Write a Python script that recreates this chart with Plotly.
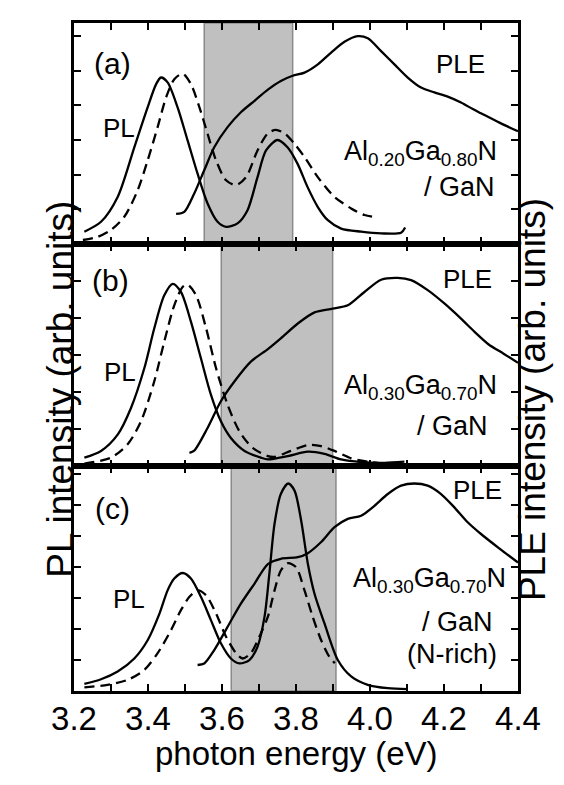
import plotly.graph_objects as go
from plotly.subplots import make_subplots

# ---------------- data (photon energy in eV, intensity in arb. units) ----------------
# Panel (a) Al0.20Ga0.80N / GaN
a_pl1_E = [3.228, 3.273, 3.318, 3.363, 3.399, 3.422, 3.435, 3.453, 3.480, 3.507, 3.534, 3.561, 3.588, 3.611,
           3.642, 3.669, 3.696, 3.719, 3.750, 3.777, 3.804, 3.831, 3.859, 3.886, 3.922, 3.976, 4.030, 4.084, 4.095]
a_pl1_I = [0.36, 0.645, 1.36, 2.79, 3.94, 4.61, 4.80, 4.66, 3.94, 2.99, 2.03, 1.17, 0.645, 0.50,
           0.60, 0.98, 1.93, 2.70, 3.00, 2.79, 2.32, 1.65, 1.07, 0.69, 0.45, 0.36, 0.31, 0.33, 0.48]
a_pl2_E = [3.224, 3.264, 3.300, 3.336, 3.372, 3.399, 3.426, 3.449, 3.471, 3.494, 3.516, 3.539, 3.561, 3.584,
           3.611, 3.638, 3.665, 3.696, 3.723, 3.745, 3.769, 3.796, 3.823, 3.859, 3.904, 3.949, 3.985, 4.010]
a_pl2_I = [0.12, 0.21, 0.41, 0.79, 1.55, 2.41, 3.37, 4.23, 4.75, 4.91, 4.61, 3.94, 3.18, 2.41,
           1.84, 1.70, 1.93, 2.70, 3.18, 3.29, 3.19, 2.89, 2.51, 1.93, 1.36, 1.03, 0.84, 0.79]
a_ple_E = [3.476, 3.498, 3.525, 3.552, 3.579, 3.615, 3.651, 3.688, 3.724, 3.759, 3.791, 3.823, 3.859, 3.895,
           3.931, 3.967, 3.994, 4.030, 4.066, 4.102, 4.138, 4.174, 4.210, 4.246, 4.278, 4.300, 4.350, 4.400]
a_ple_I = [0.87, 0.93, 1.46, 2.13, 2.79, 3.37, 3.80, 4.13, 4.45, 4.70, 4.85, 4.94, 5.18, 5.52,
           5.83, 5.99, 5.93, 5.56, 5.18, 4.80, 4.51, 4.37, 4.25, 4.08, 3.89, 3.77, 3.50, 3.25]

# Panel (b) Al0.30Ga0.70N / GaN
b_pl1_E = [3.228, 3.273, 3.318, 3.354, 3.390, 3.417, 3.444, 3.467, 3.489, 3.516, 3.543, 3.570, 3.597, 3.624,
           3.661, 3.705, 3.724, 3.778, 3.832, 3.877, 3.922, 3.976, 4.039, 4.093]
b_pl1_I = [0.24, 0.42, 0.86, 1.58, 2.65, 3.73, 4.62, 4.93, 4.71, 3.91, 2.92, 1.94, 1.22, 0.77,
           0.42, 0.24, 0.19, 0.28, 0.40, 0.34, 0.19, 0.12, 0.10, 0.13]
b_pl2_E = [3.228, 3.300, 3.345, 3.381, 3.417, 3.444, 3.471, 3.494, 3.507, 3.530, 3.557, 3.584, 3.615, 3.647,
           3.683, 3.724, 3.742, 3.786, 3.832, 3.868, 3.904, 3.949, 3.994, 4.021]
b_pl2_I = [0.08, 0.24, 0.60, 1.22, 2.30, 3.37, 4.35, 4.85, 4.91, 4.62, 3.73, 2.65, 1.67, 0.95,
           0.50, 0.28, 0.26, 0.42, 0.58, 0.55, 0.42, 0.22, 0.13, 0.10]
b_ple_E = [3.512, 3.525, 3.561, 3.597, 3.634, 3.678, 3.724, 3.759, 3.805, 3.850, 3.899, 3.940, 3.985, 4.030,
           4.075, 4.111, 4.156, 4.201, 4.246, 4.282, 4.320, 4.360, 4.400]
b_ple_I = [0.37, 0.43, 1.04, 1.76, 2.30, 2.83, 3.17, 3.46, 3.86, 4.16, 4.26, 4.35, 4.71, 5.04,
           5.09, 5.03, 4.76, 4.40, 3.99, 3.64, 3.30, 3.05, 2.80]

# Panel (c) Al0.30Ga0.70N / GaN (N-rich)
c_pl1_E = [3.228, 3.273, 3.318, 3.363, 3.399, 3.431, 3.453, 3.471, 3.494, 3.516, 3.543, 3.570, 3.597, 3.624,
           3.647, 3.674, 3.696, 3.715, 3.728, 3.742, 3.759, 3.779, 3.796, 3.814, 3.832, 3.850, 3.877, 3.913,
           3.949, 3.994, 4.048, 4.102]
c_pl1_I = [0.23, 0.38, 0.63, 1.05, 1.64, 2.50, 3.25, 3.63, 3.81, 3.63, 3.04, 2.29, 1.54, 1.05,
           0.89, 1.00, 1.43, 2.40, 3.79, 5.40, 6.36, 6.70, 6.47, 5.50, 4.11, 3.14, 2.18, 1.00,
           0.47, 0.20, 0.09, 0.06]
c_pl2_E = [3.228, 3.291, 3.345, 3.390, 3.426, 3.462, 3.489, 3.512, 3.534, 3.557, 3.584, 3.611, 3.638, 3.656,
           3.678, 3.705, 3.724, 3.742, 3.759, 3.778, 3.800, 3.823, 3.845, 3.868, 3.890, 3.905]
c_pl2_I = [0.12, 0.20, 0.36, 0.68, 1.22, 1.96, 2.61, 3.04, 3.25, 3.09, 2.50, 1.75, 1.22, 1.05,
           1.22, 1.86, 2.40, 3.25, 3.89, 4.13, 4.00, 3.25, 2.40, 1.64, 1.11, 0.90]
c_ple_E = [3.534, 3.552, 3.579, 3.615, 3.651, 3.688, 3.724, 3.759, 3.805, 3.832, 3.868, 3.904, 3.940, 3.976,
           4.012, 4.048, 4.084, 4.120, 4.156, 4.192, 4.228, 4.264, 4.300, 4.350, 4.400]
c_ple_I = [0.84, 0.89, 1.32, 2.07, 2.82, 3.47, 4.10, 4.27, 4.32, 4.45, 4.81, 5.29, 5.56, 5.66,
           5.98, 6.36, 6.63, 6.70, 6.63, 6.36, 5.93, 5.45, 5.07, 4.60, 4.15]

# shaded energy windows per panel
band_lo = [3.552, 3.598, 3.625]
band_hi = [3.791, 3.899, 3.908]
y_max = [6.37, 6.0, 7.25]
panel_tags = ["(a)", "(b)", "(c)"]
sample_lines = [
    ["Al<sub>0.20</sub>Ga<sub>0.80</sub>N", "/ GaN"],
    ["Al<sub>0.30</sub>Ga<sub>0.70</sub>N", "/ GaN"],
    ["Al<sub>0.30</sub>Ga<sub>0.70</sub>N", "/ GaN", "(N-rich)"],
]
x_ticks = [3.2, 3.4, 3.6, 3.8, 4.0, 4.2, 4.4]

FONT = "Liberation Sans, Arial, Helvetica, sans-serif"

fig = make_subplots(rows=3, cols=1, vertical_spacing=0)

panels = [
    (a_pl1_E, a_pl1_I, a_pl2_E, a_pl2_I, a_ple_E, a_ple_I),
    (b_pl1_E, b_pl1_I, b_pl2_E, b_pl2_I, b_ple_E, b_ple_I),
    (c_pl1_E, c_pl1_I, c_pl2_E, c_pl2_I, c_ple_E, c_ple_I),
]
for i, (e1, i1, e2, i2, e3, i3) in enumerate(panels):
    r = i + 1
    fig.add_trace(go.Scatter(x=e1, y=i1, mode="lines",
                             line=dict(color="black", width=2.3, shape="spline", smoothing=0.8)), row=r, col=1)
    fig.add_trace(go.Scatter(x=e2, y=i2, mode="lines",
                             line=dict(color="black", width=2.3, dash="10px,6px", shape="spline", smoothing=0.8)), row=r, col=1)
    fig.add_trace(go.Scatter(x=e3, y=i3, mode="lines",
                             line=dict(color="black", width=2.3, shape="spline", smoothing=0.8)), row=r, col=1)

domains = [[0.6689, 1.0], [0.3361, 0.6689], [0.0, 0.3361]]
for i in range(3):
    sfx = "" if i == 0 else str(i + 1)
    fig.layout["xaxis" + sfx].update(
        range=[3.2, 4.4], tickvals=x_ticks, ticktext=[f"{v:.1f}" for v in x_ticks],
        ticks="inside", ticklen=7, tickwidth=2, tickcolor="black",
        minor=dict(dtick=0.1, tick0=3.2, ticks="inside", ticklen=7, tickwidth=2, tickcolor="black"),
        showline=True, linewidth=2.5, linecolor="black", mirror="ticks",
        showgrid=False, zeroline=False, showticklabels=(i == 2),
        tickfont=dict(family=FONT, size=33, color="black"),
        ticklabelstandoff=-3,
    )
    fig.layout["yaxis" + sfx].update(
        domain=domains[i], range=[0, y_max[i]], dtick=1, tick0=0,
        ticks="inside", ticklen=7, tickwidth=2, tickcolor="black",
        showline=True, linewidth=2.5, linecolor="black", mirror="ticks",
        showgrid=False, zeroline=False, showticklabels=False,
    )
    xr = "x" + sfx
    yr = "y" + sfx
    fig.add_shape(type="rect", xref=xr, yref=yr + " domain", x0=band_lo[i], x1=band_hi[i], y0=0, y1=1,
                  fillcolor="#c0c0c0", line=dict(color="#8a8a8a", width=1.5), layer="below")

# in-panel labels (data coordinates)
label_pos = [
    dict(tag=(3.305, 5.19), pl=(3.321, 3.36), ple=(4.245, 5.19), sample_x=4.348, sample_y=[2.63, 1.66]),
    dict(tag=(3.299, 5.03), pl=(3.325, 2.56), ple=(4.263, 5.05), sample_x=4.348, sample_y=[2.14, 1.08]),
    dict(tag=(3.305, 5.88), pl=(3.348, 2.98), ple=(4.290, 6.49), sample_x=4.372, sample_y=[3.60, 2.24, 1.18]),
]
sample_dx = [[0, -0.005], [0, -0.024], [0, -0.035, -0.024]]
for i, lp in enumerate(label_pos):
    sfx = "" if i == 0 else str(i + 1)
    xr, yr = "x" + sfx, "y" + sfx
    fig.add_annotation(x=lp["tag"][0], y=lp["tag"][1], xref=xr, yref=yr, text=panel_tags[i], showarrow=False,
                       font=dict(family=FONT, size=30, color="black"))
    fig.add_annotation(x=lp["pl"][0], y=lp["pl"][1], xref=xr, yref=yr, text="PL", showarrow=False,
                       font=dict(family=FONT, size=26, color="black"))
    fig.add_annotation(x=lp["ple"][0], y=lp["ple"][1], xref=xr, yref=yr, text="PLE", showarrow=False,
                       font=dict(family=FONT, size=26, color="black"))
    for j, line in enumerate(sample_lines[i]):
        fig.add_annotation(x=lp["sample_x"] + sample_dx[i][j], y=lp["sample_y"][j], xref=xr, yref=yr,
                           text=line, showarrow=False, xanchor="right",
                           font=dict(family=FONT, size=27, color="black"))

# axis titles
fig.add_annotation(x=0.5, y=-0.124, xref="paper", yref="paper", text="photon energy (eV)", showarrow=False,
                   font=dict(family=FONT, size=33, color="black"))
fig.add_annotation(x=-0.083, y=0.452, xref="paper", yref="paper", text="PL intensity (arb. units)",
                   textangle=-90, showarrow=False, font=dict(family=FONT, size=37, color="black"))
fig.add_annotation(x=1.083, y=0.436, xref="paper", yref="paper", text="PLE intensity (arb. units)",
                   textangle=-90, showarrow=False, font=dict(family=FONT, size=37, color="black"))

fig.update_layout(
    width=564, height=785,
    margin=dict(l=66, r=54, t=12, b=102),
    paper_bgcolor="white", plot_bgcolor="white",
    showlegend=False,
)

fig.write_html("out.html")
